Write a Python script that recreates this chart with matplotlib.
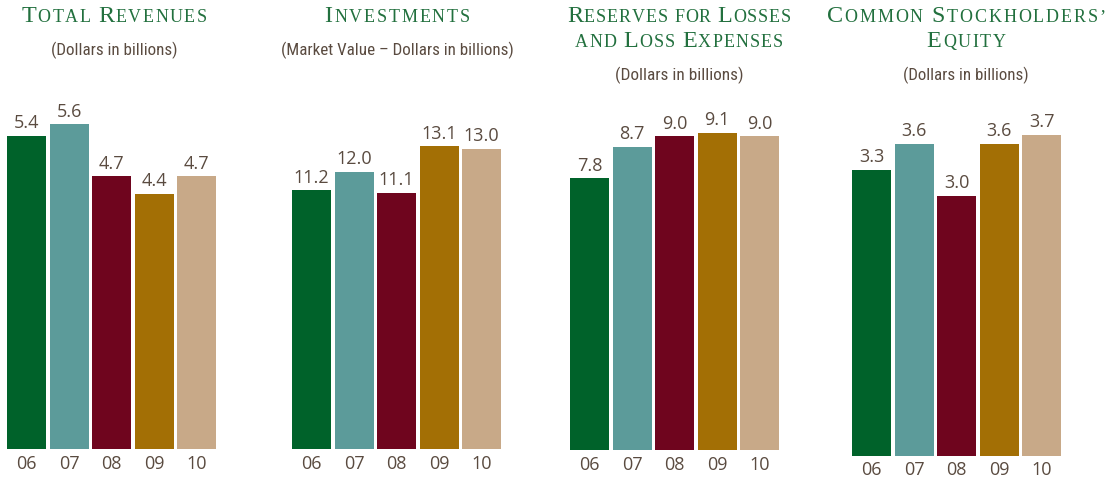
import matplotlib
matplotlib.use("Agg")
import matplotlib.pyplot as plt
from matplotlib import font_manager

# ---- data ----
years = ["06", "07", "08", "09", "10"]
total_revenues = [5.4, 5.6, 4.7, 4.4, 4.7]
investments = [11.2, 12.0, 11.1, 13.1, 13.0]
reserves = [7.8, 8.7, 9.0, 9.1, 9.0]
equity = [3.3, 3.6, 3.0, 3.6, 3.7]
value_labels_1 = ["5.4", "5.6", "4.7", "4.4", "4.7"]
value_labels_2 = ["11.2", "12.0", "11.1", "13.1", "13.0"]
value_labels_3 = ["7.8", "8.7", "9.0", "9.1", "9.0"]
value_labels_4 = ["3.3", "3.6", "3.0", "3.6", "3.7"]
titles = [["Total Revenues"], ["Investments"],
          ["Reserves for Losses", "and Loss Expenses"],
          ["Common Stockholders\u2019", "Equity"]]
subtitles = ["(Dollars in billions)", "(Market Value \u2013 Dollars in billions)",
             "(Dollars in billions)", "(Dollars in billions)"]

bar_colors = ["#00622a", "#5c9b9a", "#6f051e", "#a36f05", "#c8a988"]
title_color = "#22703e"
text_color = "#5a4b40"

W, H = 1112, 479
fig = plt.figure(figsize=(W / 100, H / 100), dpi=100)
fig.patch.set_facecolor("white")
renderer = fig.canvas.get_renderer()

avail = {f.name for f in font_manager.fontManager.ttflist}
sub_font = next((f for f in ["Liberation Sans Narrow", "Roboto Condensed",
                             "Open Sans Condensed", "Roboto"] if f in avail), "DejaVu Sans")
num_font = "Open Sans" if "Open Sans" in avail else "DejaVu Sans"
serif = "Liberation Serif"


def fx(x):
    return x / W


def fy(y):
    return 1 - y / H


def smallcaps(text, cx, y_base, target_w, big=17.4, small=13.0):
    pieces = []
    for ch in text:
        if ch == " ":
            pieces.append((" ", small))
        elif ch.isupper():
            pieces.append((ch, big))
        else:
            pieces.append((ch.upper(), small))
    widths = []
    for ch, size in pieces:
        t = fig.text(0, 0, ch if ch != " " else "n", fontsize=size, family=serif)
        w = t.get_window_extent(renderer).width
        t.remove()
        if ch == " ":
            w *= 0.55
        widths.append(w)
    n = len(pieces)
    track = (target_w - sum(widths)) / (n - 1)
    x = cx - target_w / 2
    for (ch, size), w in zip(pieces, widths):
        if ch != " ":
            fig.text(fx(x), fy(y_base), ch, fontsize=size, family=serif,
                     color=title_color, ha="left", va="baseline")
        x += w + track


def fitted_text(text, cx, y_base, target_w, base_size=13.5):
    t = fig.text(fx(cx), fy(y_base), text, fontsize=base_size, family=sub_font,
                 color=text_color, ha="center", va="baseline")
    w = t.get_window_extent(renderer).width
    t.set_fontsize(base_size * target_w / w)


# panel geometry (pixels)
panels = [
    dict(vals=total_revenues, labels=value_labels_1, left=5.3, base=448.5, scale=57.9,
         cx=114, title_w=[185], title_y=[22], sub_y=55, sub_w=127, tick_off=20.5),
    dict(vals=investments, labels=value_labels_2, left=290.3, base=449, scale=23.1,
         cx=397, title_w=[145], title_y=[22], sub_y=55, sub_w=233, tick_off=20),
    dict(vals=reserves, labels=value_labels_3, left=568.3, base=449.5, scale=34.8,
         cx=679, title_w=[224, 208], title_y=[22, 47], sub_y=80, sub_w=128, tick_off=20.5),
    dict(vals=equity, labels=value_labels_4, left=850.3, base=456, scale=86.8,
         cx=966, title_w=[279, 79], title_y=[22, 47], sub_y=80, sub_w=126, tick_off=19),
]

axw = 212.5
axh = 360
for i, p in enumerate(panels):
    ax = fig.add_axes([fx(p["left"]), 1 - p["base"] / H, axw / W, axh / H])
    ax.set_xlim(-0.5, 4.5)
    ax.set_ylim(0, axh / p["scale"])
    ax.bar(range(len(years)), p["vals"], width=0.92, color=bar_colors)
    ax.axis("off")
    for j, (v, lab) in enumerate(zip(p["vals"], p["labels"])):
        ax.annotate(lab, (j, v), xytext=(0, 7.5), textcoords="offset pixels",
                    ha="center", va="baseline", fontsize=13, family=num_font,
                    color=text_color)
        ax.annotate(years[j], (j, 0), xytext=(0, -p["tick_off"]), textcoords="offset pixels",
                    ha="center", va="baseline", fontsize=13, family=num_font,
                    color=text_color, annotation_clip=False)
    for line, tw, ty in zip(titles[i], p["title_w"], p["title_y"]):
        smallcaps(line, p["cx"], ty, tw)
    fitted_text(subtitles[i], p["cx"], p["sub_y"], p["sub_w"])

fig.savefig("out.png", dpi=100, facecolor="white")
